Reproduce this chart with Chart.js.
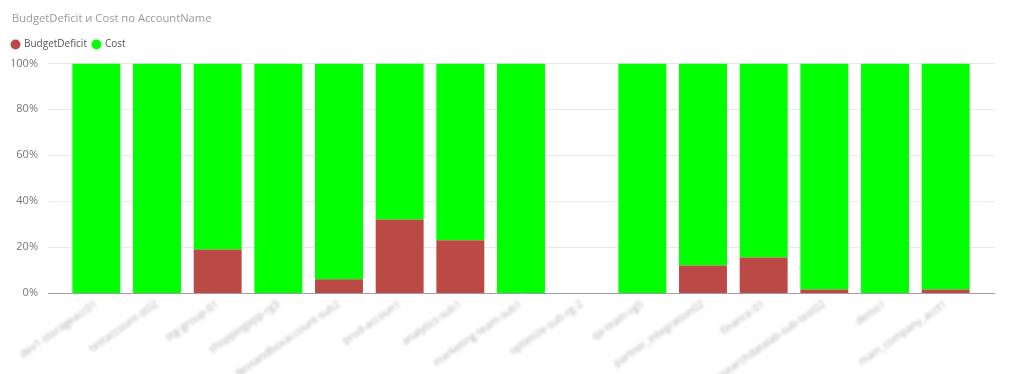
<!DOCTYPE html>
<html>
<head>
<meta charset="utf-8">
<script src="https://cdn.jsdelivr.net/npm/chart.js@4.4.1/dist/chart.umd.min.js"></script>
<style>
  html, body { margin: 0; padding: 0; background: #ffffff; }
  #wrap { width: 1009px; height: 374px; position: relative; }
</style>
</head>
<body>
<div id="wrap"><canvas id="c" width="1009" height="374"></canvas></div>
<script>
const chartTitle = 'BudgetDeficit и Cost по AccountName';
const categories = [
  'dev1-storageacc01', 'testaccount-st02', 'stg-group-01', 'shoppingapp-rg3',
  'devsandboxaccount-sub2', 'prod-accoun1', 'analytics-sub1', 'marketing-team-sub1',
  'optimize-sub-rg-2', 'qa-team-rg5', 'partner_integration02', 'finance-01',
  'researchdatalab-sub-test02', 'demo1', 'main_company_acct1'
];
const budgetDeficit = [0, 0, 19, 0, 6, 32, 23, 0, null, 0, 12, 15.5, 1.5, 0, 1.5];
const cost =          [100, 100, 81, 100, 94, 68, 77, 100, null, 100, 88, 84.5, 98.5, 100, 98.5];
const yTicks = [0, 20, 40, 60, 80, 100];

const FONT = "'Segoe UI', 'Open Sans', sans-serif";

const gridPlugin = {
  id: 'extGrid',
  afterLayout(chart) {
    const lg = chart.legend;
    if (lg && !lg._shifted) {
      lg.left -= 6; lg.right -= 6;
      lg.top -= 4; lg.bottom -= 4;
      lg._shifted = true;
    }
  },
  beforeDraw(chart) {
    const s = chart.scales.x;
    if (s && !s._blurWrapped) {
      const orig = s.drawLabels.bind(s);
      s.drawLabels = function(area) {
        const ctx = this.ctx;
        ctx.save();
        ctx.filter = 'blur(1.4px)';
        orig(area);
        ctx.restore();
      };
      s._blurWrapped = true;
    }
  },
  beforeDatasetsDraw(chart) {
    const y = chart.scales.y;
    const ctx = chart.ctx;
    ctx.save();
    yTicks.forEach(v => {
      const py = Math.round(y.getPixelForValue(v)) + 0.5;
      ctx.beginPath();
      ctx.strokeStyle = v === 0 ? '#a0a0a0' : '#e9e9e9';
      ctx.lineWidth = 1;
      ctx.moveTo(48, py);
      ctx.lineTo(995, py);
      ctx.stroke();
    });
    ctx.restore();
  }
};

new Chart(document.getElementById('c'), {
  type: 'bar',
  data: {
    labels: categories,
    datasets: [
      { label: 'BudgetDeficit', data: budgetDeficit, backgroundColor: '#BB4A47', borderWidth: 0 },
      { label: 'Cost', data: cost, backgroundColor: '#00FF00', borderWidth: 0 }
    ]
  },
  options: {
    responsive: false,
    animation: false,
    devicePixelRatio: 1,
    layout: { padding: { left: 12, right: 33, top: 0, bottom: 0 } },
    datasets: { bar: { barPercentage: 0.79, categoryPercentage: 1.0 } },
    plugins: {
      title: {
        display: true, text: chartTitle, align: 'start', color: '#9a9a9a',
        font: { family: FONT, size: 11.2, weight: 'normal' },
        padding: { top: 12, bottom: 12 }
      },
      legend: {
        display: true, position: 'top', align: 'start',
        labels: {
          usePointStyle: true, pointStyle: 'circle', boxWidth: 7, boxHeight: 7,
          color: '#555', padding: 6,
          font: { family: FONT, size: 10 }
        }
      },
      tooltip: { enabled: false }
    },
    scales: {
      x: {
        stacked: true,
        grid: { display: false, drawTicks: false },
        border: { display: false },
        afterFit(scale) { scale.height = 81; },
        ticks: {
          autoSkip: false, maxRotation: 35, minRotation: 35, padding: 5,
          color: '#b0b0b0', font: { family: FONT, size: 10.5 }
        }
      },
      y: {
        stacked: true, min: 0, max: 100,
        grid: { display: false, drawTicks: false },
        border: { display: false },
        afterFit(scale) { scale.width = 54; },
        ticks: {
          stepSize: 20, padding: 28, color: '#777',
          font: { family: FONT, size: 11 },
          callback: v => v + '%'
        }
      }
    }
  },
  plugins: [gridPlugin]
});
</script>
</body>
</html>
